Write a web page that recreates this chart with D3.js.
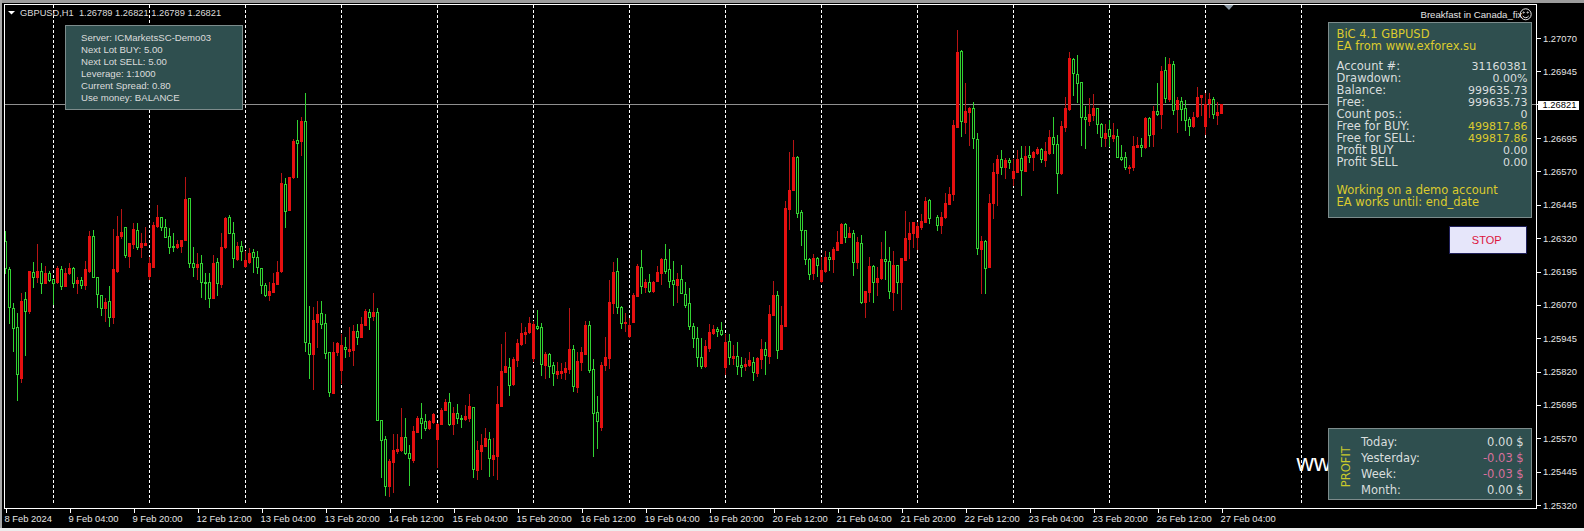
<!DOCTYPE html>
<html><head><meta charset="utf-8">
<script src="https://cdn.jsdelivr.net/npm/d3@7"></script>
<style>html,body{margin:0;padding:0;background:#000;overflow:hidden}svg{display:block}text{font-family:"Liberation Sans",Arial,sans-serif}</style>
</head><body><svg id="c" width="1584" height="531"></svg>
<script>
const close=[
1.26208,1.26062,1.25983,1.25811,1.26085,1.26047,1.26197,1.26174,1.26197,1.26152,
1.26189,1.26163,1.26152,1.26208,1.26141,1.26189,1.26208,1.26152,1.26163,1.26144,
1.26204,1.26328,1.26174,1.26111,1.26058,1.26081,1.26025,1.26204,1.26328,1.26343,
1.26257,1.26302,1.26354,1.26287,1.26302,1.26302,1.26227,1.26369,1.26399,1.26362,
1.26324,1.26287,1.26287,1.26298,1.26313,1.26467,1.26227,1.26212,1.26223,1.26156,
1.26152,1.26096,1.26227,1.26152,1.26287,1.26396,1.26339,1.26246,1.26291,1.26272,
1.26238,1.26264,1.26249,1.26212,1.26144,1.26107,1.26122,1.26152,1.26193,1.26527,
1.26422,1.26549,1.26684,1.26677,1.26759,1.25931,1.25886,1.26013,1.26036,1.25998,
1.25890,1.25743,1.25893,1.25927,1.25920,1.25905,1.25905,1.25972,1.25950,1.25998,
1.26047,1.26025,1.26043,1.25638,1.25563,1.25391,1.25485,1.25526,1.25530,1.25575,
1.25515,1.25496,1.25597,1.25646,1.25627,1.25608,1.25635,1.25661,1.25623,1.25676,
1.25706,1.25623,1.25665,1.25646,1.25642,1.25653,1.25691,1.25455,1.25526,1.25545,
1.25571,1.25496,1.25507,1.25699,1.25822,1.25841,1.25770,1.25867,1.25927,1.25965,
1.25968,1.26002,1.25998,1.25983,1.25848,1.25886,1.25841,1.25815,1.25822,1.25822,
1.25833,1.25905,1.25766,1.25860,1.25893,1.25995,1.25826,1.25665,1.25635,1.25845,
1.25875,1.26081,1.26193,1.26062,1.26002,1.26006,1.25995,1.26107,1.26216,1.26141,
1.26156,1.26122,1.26156,1.26193,1.26242,1.26197,1.26159,1.26148,1.26167,1.26114,
1.26070,1.25991,1.25946,1.25875,1.25841,1.25916,1.25968,1.25980,1.25972,1.25961,
1.25931,1.25875,1.25878,1.25841,1.25837,1.25848,1.25863,1.25818,1.25871,1.25905,
1.25882,1.26036,1.26107,1.25901,1.25995,1.26433,1.26500,1.26624,1.26414,1.26351,
1.26242,1.26186,1.26246,1.26219,1.26201,1.26249,1.26242,1.26279,1.26306,1.26373,
1.26324,1.26339,1.26231,1.26306,1.26081,1.26122,1.26216,1.26156,1.26171,1.26242,
1.26234,1.26122,1.26219,1.26156,1.26246,1.26321,1.26339,1.26381,1.26366,1.26384,
1.26459,1.26396,null,1.26369,1.26399,1.26452,1.26485,1.26744,1.27018,1.26759,
1.26796,1.26808,1.26695,1.26283,1.26309,1.26208,1.26452,1.26568,1.26617,1.26587,
1.26613,1.26605,1.26572,1.26617,1.26575,1.26628,1.26624,1.26643,1.26654,1.26617,
1.26647,1.26699,1.26673,1.26564,1.26740,1.26808,1.26995,1.26939,1.26901,1.26774,
1.26766,1.26785,1.26808,1.26748,1.26699,1.26714,1.26703,1.26707,1.26624,1.26617,
1.26587,1.26587,1.26665,1.26669,1.26662,1.26770,1.26707,1.26796,1.26785,1.26946,
1.26845,1.26973,1.26800,1.26838,1.26804,1.26763,1.26740,1.26774,1.26849,1.26856,
1.26823,1.26841,1.26785,1.26793,1.26821];
const open=[
1.26309,1.26204,1.26058,1.25987,1.25796,1.26092,1.26047,1.26193,1.26174,1.26197,
1.26152,1.26189,1.26167,1.26156,1.26204,1.26141,1.26189,1.26208,1.26152,1.26163,
1.26144,1.26197,1.26328,1.26174,1.26107,1.26058,1.26085,1.26025,1.26197,1.26328,
1.26362,1.26253,1.26298,1.26351,1.26287,1.26294,1.26178,1.26212,1.26366,1.26399,
1.26362,1.26328,1.26291,1.26287,1.26291,1.26313,1.26470,1.26227,1.26212,1.26227,
1.26156,1.26156,1.26096,1.26231,1.26148,1.26287,1.26399,1.26339,1.26242,1.26291,
1.26216,1.26231,1.26268,1.26249,1.26208,1.26144,1.26107,1.26118,1.26148,1.26197,
1.26523,1.26425,1.26549,1.26688,1.26684,1.26759,1.25927,1.25886,1.26006,1.26040,
1.26002,1.25893,1.25740,1.25893,1.25826,1.25912,1.25897,1.25901,1.25972,1.25950,
1.25995,1.26043,1.26028,1.26043,1.25638,1.25567,1.25391,1.25481,1.25522,1.25526,
1.25575,1.25515,1.25488,1.25593,1.25646,1.25635,1.25608,1.25631,1.25567,1.25623,
1.25676,1.25706,1.25623,1.25665,1.25646,1.25642,1.25646,1.25687,1.25451,1.25522,
1.25541,1.25567,1.25492,1.25503,1.25691,1.25818,1.25837,1.25773,1.25863,1.25923,
1.25961,1.25968,1.25871,1.25991,1.25987,1.25845,1.25886,1.25845,1.25811,1.25815,
1.25818,1.25830,1.25905,1.25762,1.25856,1.25886,1.25995,1.25830,1.25669,1.25612,
1.25845,1.25871,1.26077,1.26197,1.26062,1.26002,1.25953,1.26006,1.26103,1.26212,
1.26137,1.26156,1.26122,1.26159,1.26189,1.26242,1.26204,1.26163,1.26144,1.26167,
1.26111,1.26077,1.25991,1.25946,1.25875,1.25841,1.25908,1.25965,1.25980,1.25976,
1.25837,1.25935,1.25871,1.25878,1.25845,1.25841,1.25845,1.25856,1.25815,1.25867,
1.25905,1.25878,1.26032,1.26107,1.25905,1.25991,1.26429,1.26500,1.26624,1.26418,
1.26351,1.26242,1.26189,1.26246,1.26159,1.26197,1.26249,1.26242,1.26276,1.26302,
1.26373,1.26324,1.26339,1.26231,1.26302,1.26081,1.26118,1.26216,1.26156,1.26171,
1.26242,1.26234,1.26118,1.26219,1.26156,1.26238,1.26317,1.26339,1.26324,1.26362,
1.26381,1.26463,null,1.26399,1.26369,1.26399,1.26448,1.26485,1.26736,1.27021,
1.26755,1.26793,1.26808,1.26692,1.26279,1.26309,1.26212,1.26452,1.26564,1.26617,
1.26587,1.26613,1.26545,1.26568,1.26620,1.26572,1.26632,1.26624,1.26639,1.26654,
1.26613,1.26639,1.26699,1.26673,1.26564,1.26736,1.26804,1.26991,1.26935,1.26905,
1.26774,1.26759,1.26781,1.26808,1.26748,1.26695,1.26729,1.26695,1.26703,1.26624,
1.26624,1.26583,1.26587,1.26662,1.26669,1.26662,1.26770,1.26710,1.26796,1.26785,
1.26950,1.26841,1.26973,1.26804,1.26834,1.26808,1.26766,1.26740,1.26778,1.26849,
1.26740,1.26827,1.26841,1.26781,1.26789];
const high=[
1.26347,1.26212,1.26077,1.26040,1.26114,1.26118,1.26197,1.26231,1.26298,1.26227,
1.26216,1.26197,1.26167,1.26216,1.26216,1.26208,1.26227,1.26212,1.26174,1.26174,
1.26234,1.26347,1.26351,1.26174,1.26107,1.26096,1.26141,1.26354,1.26403,1.26429,
1.26362,1.26302,1.26377,1.26377,1.26339,1.26362,1.26249,1.26381,1.26444,1.26399,
1.26392,1.26358,1.26339,1.26313,1.26313,1.26549,1.26470,1.26287,1.26264,1.26257,
1.26189,1.26189,1.26257,1.26246,1.26339,1.26399,1.26407,1.26381,1.26306,1.26309,
1.26272,1.26283,1.26279,1.26272,1.26208,1.26152,1.26156,1.26189,1.26234,1.26564,
1.26545,1.26549,1.26692,1.26763,1.26774,1.26864,1.26066,1.26062,1.26085,1.26085,
1.26036,1.25893,1.25931,1.25931,1.25961,1.25950,1.25987,1.25995,1.25998,1.26025,
1.26055,1.26055,1.26114,1.26058,1.25638,1.25578,1.25492,1.25586,1.25586,1.25684,
1.25646,1.25545,1.25616,1.25653,1.25702,1.25661,1.25638,1.25665,1.25627,1.25684,
1.25717,1.25740,1.25687,1.25699,1.25657,1.25695,1.25736,1.25687,1.25560,1.25586,
1.25608,1.25593,1.25571,1.25766,1.25923,1.25968,1.25871,1.25875,1.25942,1.26002,
1.25987,1.26025,1.26010,1.26051,1.26002,1.25893,1.25890,1.25856,1.25856,1.25852,
1.25856,1.26058,1.25920,1.25893,1.25912,1.26010,1.26010,1.25867,1.25728,1.25856,
1.25950,1.26163,1.26231,1.26246,1.26066,1.26040,1.26021,1.26114,1.26223,1.26276,
1.26167,1.26186,1.26159,1.26216,1.26246,1.26298,1.26279,1.26234,1.26189,1.26219,
1.26156,1.26133,1.26002,1.25987,1.25946,1.25938,1.25998,1.25995,1.25987,1.26006,
1.25961,1.25961,1.25920,1.25931,1.25875,1.25871,1.25893,1.25875,1.25875,1.25942,
1.25931,1.26070,1.26159,1.26122,1.26066,1.26459,1.26643,1.26688,1.26628,1.26425,
1.26351,1.26246,1.26261,1.26249,1.26249,1.26272,1.26268,1.26287,1.26347,1.26377,
1.26377,1.26362,1.26351,1.26324,1.26332,1.26122,1.26249,1.26219,1.26212,1.26306,
1.26347,1.26287,1.26272,1.26219,1.26246,1.26422,1.26381,1.26381,1.26381,1.26411,
1.26474,1.26467,null,1.26407,1.26418,1.26489,1.26512,1.26763,1.27100,1.27025,
1.26901,1.26811,1.26830,1.26714,1.26328,1.26313,1.26485,1.26602,1.26632,1.26650,
1.26620,1.26620,1.26617,1.26650,1.26665,1.26665,1.26665,1.26647,1.26662,1.26658,
1.26680,1.26725,1.26774,1.26707,1.26759,1.26849,1.27018,1.26995,1.27006,1.26905,
1.26815,1.26845,1.26860,1.26808,1.26751,1.26748,1.26763,1.26751,1.26729,1.26669,
1.26643,1.26594,1.26703,1.26699,1.26695,1.26774,1.26774,1.26815,1.26901,1.26965,
1.26999,1.26995,1.26984,1.26849,1.26849,1.26838,1.26774,1.26793,1.26886,1.26856,
1.26864,1.26864,1.26849,1.26830,1.26821];
const low=[
1.26189,1.26002,1.25897,1.25713,1.25781,1.25882,1.26040,1.26137,1.26156,1.26114,
1.26152,1.26159,1.26073,1.26152,1.26129,1.26141,1.26186,1.26137,1.26114,1.26133,
1.26129,1.26193,1.26174,1.26062,1.26032,1.26010,1.25991,1.26002,1.26193,1.26321,
1.26249,1.26212,1.26283,1.26279,1.26249,1.26294,1.26167,1.26212,1.26362,1.26351,
1.26324,1.26264,1.26272,1.26283,1.26268,1.26313,1.26212,1.26178,1.26167,1.26100,
1.26092,1.26062,1.26096,1.26107,1.26137,1.26283,1.26339,1.26212,1.26238,1.26238,
1.26212,1.26227,1.26193,1.26189,1.26114,1.26103,1.26088,1.26118,1.26148,1.26193,
1.26362,1.26425,1.26545,1.26549,1.26632,1.25897,1.25796,1.25755,1.25912,1.25983,
1.25871,1.25728,1.25740,1.25882,1.25777,1.25875,1.25878,1.25845,1.25923,1.25950,
1.25995,1.25980,1.26013,1.25638,1.25425,1.25357,1.25353,1.25368,1.25515,1.25522,
1.25511,1.25395,1.25481,1.25593,1.25571,1.25601,1.25605,1.25627,1.25462,1.25623,
1.25676,1.25620,1.25586,1.25627,1.25612,1.25638,1.25635,1.25425,1.25417,1.25455,
1.25541,1.25428,1.25432,1.25417,1.25691,1.25818,1.25732,1.25770,1.25841,1.25920,
1.25927,1.25965,1.25860,1.25980,1.25807,1.25796,1.25800,1.25770,1.25796,1.25796,
1.25792,1.25815,1.25747,1.25743,1.25826,1.25886,1.25818,1.25503,1.25533,1.25601,
1.25826,1.25833,1.26040,1.26040,1.25983,1.25972,1.25950,1.26006,1.26103,1.26114,
1.26118,1.26118,1.26118,1.26159,1.26148,1.26189,1.26137,1.26070,1.26081,1.26114,
1.26062,1.25980,1.25912,1.25841,1.25833,1.25837,1.25897,1.25961,1.25953,1.25957,
1.25811,1.25848,1.25848,1.25811,1.25803,1.25826,1.25841,1.25788,1.25803,1.25833,
1.25811,1.25852,1.26032,1.25871,1.25905,1.25991,1.26354,1.26500,1.26399,1.26294,
1.26223,1.26167,1.26167,1.26178,1.26156,1.26193,1.26201,1.26193,1.26276,1.26302,
1.26306,1.26324,1.26182,1.26208,1.26077,1.26025,1.26085,1.26081,1.26107,1.26167,
1.26167,1.26096,1.26051,1.26114,1.26055,1.26238,1.26246,1.26287,1.26279,1.26354,
1.26381,1.26377,null,1.26351,1.26339,1.26396,1.26448,1.26463,1.26736,1.26703,
1.26714,1.26669,1.26658,1.26261,1.26114,1.26114,1.26212,1.26396,1.26444,1.26560,
1.26545,1.26583,1.26519,1.26568,1.26482,1.26572,1.26605,1.26575,1.26635,1.26605,
1.26590,1.26635,1.26639,1.26489,1.26560,1.26721,1.26800,1.26856,1.26830,1.26669,
1.26658,1.26744,1.26763,1.26714,1.26665,1.26665,1.26665,1.26684,1.26624,1.26613,
1.26579,1.26564,1.26575,1.26662,1.26628,1.26658,1.26665,1.26665,1.26781,1.26733,
1.26830,1.26834,1.26785,1.26718,1.26763,1.26725,1.26707,1.26736,1.26774,1.26781,
1.26710,1.26774,1.26770,1.26748,1.26789];

const priceTicks=[1.27070,1.26945,1.26695,1.26570,1.26445,1.26320,1.26195,1.26070,1.25945,1.25820,1.25695,1.25570,1.25445,1.25320];
const bid=1.26821;
const dateLabels=["8 Feb 2024","9 Feb 04:00","9 Feb 20:00","12 Feb 12:00","13 Feb 04:00","13 Feb 20:00","14 Feb 12:00","15 Feb 04:00","15 Feb 20:00","16 Feb 12:00","19 Feb 04:00","19 Feb 20:00","20 Feb 12:00","21 Feb 04:00","21 Feb 20:00","22 Feb 12:00","23 Feb 04:00","23 Feb 20:00","26 Feb 12:00","27 Feb 04:00"];
const infoLines=["Server: ICMarketsSC-Demo03","Next Lot BUY: 5.00","Next Lot SELL: 5.00","Leverage: 1:1000","Current Spread: 0.80","Use money: BALANCE"];
const eaTitle=["BiC 4.1 GBPUSD","EA from www.exforex.su"];
const acctLabels=["Account #:","Drawdown:","Balance:","Free:","Count pos.:","Free for BUY:","Free for SELL:","Profit BUY","Profit SELL"];
const acctValues=["31160381","0.00%","999635.73","999635.73","0","499817.86","499817.86","0.00","0.00"];
const eaNotes=["Working on a demo account","EA works until: end_date"];
const profitLabels=["Today:","Yesterday:","Week:","Month:"];
const profitValues=["0.00 $","-0.03 $","-0.03 $","0.00 $"];

const svg=d3.select("#c");
const R=(a)=>svg.append("rect").attr("x",a[0]).attr("y",a[1]).attr("width",a[2]).attr("height",a[3]).attr("fill",a[4]).attr("shape-rendering","crispEdges");
R([0,0,1584,531,"#000"]);
R([0,0,1584,2.5,"#9c9c9c"]);R([0,0,2,531,"#a8a8a8"]);R([0,528,1584,3,"#ececec"]);

const x=d3.scaleLinear().domain([0,304]).range([5.5,1221.5]);
const y=d3.scaleLinear().domain([1.25320,1.27070]).range([505,38]);
const Y=v=>Math.round(y(v));

// day separators
const seps=d3.range(12,330,24);
svg.append("g").selectAll("line").data(seps).join("line")
 .attr("x1",d=>x(d)).attr("x2",d=>x(d)).attr("y1",5).attr("y2",505)
 .attr("stroke","#fff").attr("stroke-dasharray","3,2").attr("shape-rendering","crispEdges");

// bid line
svg.append("line").attr("x1",5).attr("x2",1536).attr("y1",Y(bid)+.5).attr("y2",Y(bid)+.5).attr("stroke","#8f8f8f").attr("shape-rendering","crispEdges");

// candles
const idx=d3.range(close.length).filter(i=>close[i]!==null);
const up=i=>close[i]>=open[i];
const RED="#e61010",WICK="#b81414",GRN="#32d232";
const g=svg.append("g").attr("shape-rendering","crispEdges");
g.selectAll("line").data(idx).join("line")
 .attr("x1",i=>x(i)).attr("x2",i=>x(i)).attr("y1",i=>Y(high[i])).attr("y2",i=>Y(low[i])+1)
 .attr("stroke",i=>up(i)?WICK:GRN);
g.selectAll("rect").data(idx).join("rect")
 .attr("x",i=>x(i)-1).attr("width",2)
 .attr("y",i=>Math.min(Y(open[i]),Y(close[i]))+.5)
 .attr("height",i=>Math.abs(Y(open[i])-Y(close[i])))
 .attr("fill",i=>up(i)?RED:"#000").attr("stroke",i=>up(i)?RED:GRN);

// frame
const frame=svg.append("g").attr("shape-rendering","crispEdges").attr("stroke","#fff");
frame.append("line").attr("x1",4.5).attr("x2",4.5).attr("y1",4).attr("y2",509);
frame.append("line").attr("x1",4).attr("x2",1537).attr("y1",4.5).attr("y2",4.5);
frame.append("line").attr("x1",1536.5).attr("x2",1536.5).attr("y1",4).attr("y2",509);
frame.append("line").attr("x1",4).attr("x2",1537).attr("y1",508.5).attr("y2",508.5);

// axes
const ax=svg.append("g").attr("transform","translate(0,508.5)").call(
 d3.axisBottom(x).tickValues(dateLabels.map((d,i)=>i*16)).tickSize(4).tickPadding(2).tickFormat((d,i)=>dateLabels[i]));
ax.select(".domain").remove();
ax.selectAll("line").attr("stroke","#fff").attr("shape-rendering","crispEdges");
ax.selectAll("text").attr("fill","#e6e6e6").attr("text-anchor","start").attr("dx",-1.5).style("font-size","9.4px").attr("dy",null).attr("y",13);

const ay=svg.append("g").attr("transform","translate(1536.5,0)").call(
 d3.axisRight(y).tickValues(priceTicks).tickSize(4).tickPadding(2.5).tickFormat(d3.format(".5f")));
ay.select(".domain").remove();
ay.selectAll("line").attr("stroke","#fff").attr("shape-rendering","crispEdges");
ay.selectAll("text").attr("fill","#e6e6e6").style("font-size","9.4px");

// bid label
svg.append("rect").attr("x",1538).attr("y",100.5).attr("width",41).attr("height",9).attr("fill","#fff").attr("shape-rendering","crispEdges");
svg.append("text").attr("x",1542.5).attr("y",108).attr("fill","#000").style("font-size","9.4px").text(d3.format(".5f")(bid));
svg.append("line").attr("x1",1536).attr("x2",1539).attr("y1",Y(bid)+.5).attr("y2",Y(bid)+.5).attr("stroke","#fff");

// chart shift marker
svg.append("path").attr("d","M1224 5 L1233.5 5 L1229 10 Z").attr("fill","#8a98a4");

// header
svg.append("path").attr("d","M8 11 L15 11 L11.5 14.5 Z").attr("fill","#fff");
svg.append("text").attr("x",20).attr("y",16).attr("fill","#dcdcdc").style("font-size","9.3px")
 .attr("xml:space","preserve").text("GBPUSD,H1  "+[open[304],high[304],low[304],close[304]].map(d3.format(".5f")).join(" "));

// big label behind profit panel
svg.append("text").attr("x",1296.5).attr("y",471).attr("fill","#fff").style("font-size","24px").text("ww");

function panel(x0,y0,x1,y1){
 svg.append("rect").attr("x",x0+.5).attr("y",y0+.5).attr("width",x1-x0).attr("height",y1-y0).attr("fill","#2f4f4f").attr("stroke","#7d8c8c").attr("shape-rendering","crispEdges");
}
// info panel
panel(65,25,242,109);
svg.append("g").selectAll("text").data(infoLines).join("text").attr("x",81).attr("y",(d,i)=>41+i*12).attr("fill","#dcdcdc").style("font-size","9.6px").text(d=>d);

// account panel
panel(1328,22,1531,217);
const U="DejaVu Sans";
const tx=(t,xx,yy,col,anc,fs)=>svg.append("text").attr("x",xx).attr("y",yy).attr("fill",col).attr("text-anchor",anc||"start").style("font-family",U).style("font-size",(fs||11.5)+"px").text(t);
const YEL="#dccb2e",LT="#d9dede",PINK="#d9709c";
eaTitle.forEach((t,i)=>tx(t,1336.5,38+i*12,YEL));
acctLabels.forEach((t,i)=>tx(t,1336.5,70+i*12,LT));
acctValues.forEach((t,i)=>tx(t,1527.5,70+i*12,(i==5||i==6)?YEL:LT,"end",11));
eaNotes.forEach((t,i)=>tx(t,1336.5,194+i*12,YEL));

// top-right label and smiley
svg.append("text").attr("x",1420.5).attr("y",17.5).attr("fill","#e4e4e4").style("font-size","9.6px").text("Breakfast in Canada_fix");
const sm=svg.append("g").attr("fill","none").attr("stroke","#e8e8e8");
sm.append("circle").attr("cx",1525.7).attr("cy",14.3).attr("r",5.5);
sm.append("path").attr("d","M1522.7 16 Q1525.7 19.5 1528.7 16");
sm.append("circle").attr("cx",1523.7).attr("cy",12.5).attr("r",.6);
sm.append("circle").attr("cx",1527.7).attr("cy",12.5).attr("r",.6);

// stop button
svg.append("rect").attr("x",1449.5).attr("y",226.5).attr("width",77).attr("height",27).attr("fill","#e6e6fa").attr("stroke","#20205a").attr("shape-rendering","crispEdges");
svg.append("text").attr("x",1486.7).attr("y",244).attr("text-anchor","middle").attr("fill","#dc143c").style("font-size","11px").text("STOP");

// profit panel
panel(1328,428,1531,499);
profitLabels.forEach((t,i)=>tx(t,1361,445.5+i*16,LT));
profitValues.forEach((t,i)=>tx(t,1523.7,445.5+i*16,t[0]=="-"?PINK:LT,"end"));
svg.append("text").attr("transform","translate(1349.5,466.7) rotate(-90)").attr("text-anchor","middle").attr("fill","#c9c92c").style("font-family",U).style("font-size","11.5px").text("PROFIT");
</script></body></html>
